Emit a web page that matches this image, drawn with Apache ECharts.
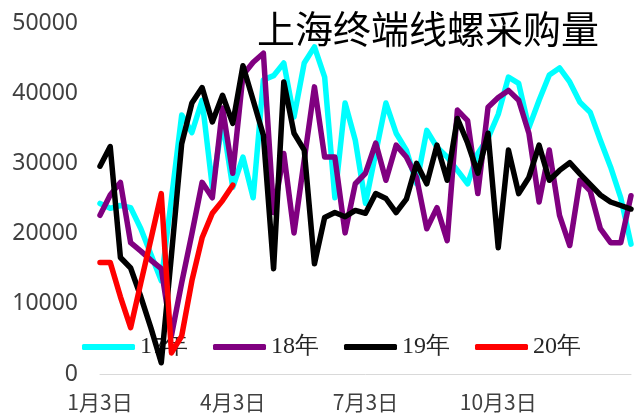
<!DOCTYPE html>
<html>
<head>
<meta charset="utf-8">
<script src="https://cdn.jsdelivr.net/npm/echarts@6/dist/echarts.min.js"></script>
<style>
html,body{margin:0;padding:0;background:#fff;}
#chart{width:634px;height:420px;}
</style>
</head>
<body>
<div id="chart"></div>
<script>
// weekly categories
const categories = ['1月3日','1月10日','1月17日','1月24日','1月31日','2月7日','2月14日','2月21日','2月28日','3月6日','3月13日','3月20日','3月27日','4月3日','4月10日','4月17日','4月24日','5月1日','5月8日','5月15日','5月22日','5月29日','6月5日','6月12日','6月19日','6月26日','7月3日','7月10日','7月17日','7月24日','7月31日','8月7日','8月14日','8月21日','8月28日','9月4日','9月11日','9月18日','9月25日','10月2日','10月9日','10月16日','10月23日','10月30日','11月6日','11月13日','11月20日','11月27日','12月4日','12月11日','12月18日','12月25日','1月1日'];
const tickIndex = [0, 13, 26, 39];
const tickLabels = ['1月3日', '4月3日', '7月3日', '10月3日'];
const yTicks = [0, 10000, 20000, 30000, 40000, 50000];
const seriesNames = ['17年', '18年', '19年', '20年'];

const s17 = [24300,23600,24000,23700,20700,17000,13300,25000,36900,34400,39000,26600,36000,26600,30900,25100,41900,42500,44300,36600,44300,46600,42300,25100,38600,33300,24300,31500,38600,34300,31900,27100,34700,32300,30900,29000,27100,31400,33600,37000,42300,41400,35100,39000,42600,43600,41600,38700,37300,33300,29500,25100,18500];
const s18 = [22600,25500,27300,18700,17500,16200,15000,5500,13000,20000,27300,25100,37900,28600,42600,44400,45700,23000,31400,20100,30500,40900,30900,30900,20100,27100,28600,32900,27600,32600,30900,28000,20700,23700,19000,37600,36100,25700,38000,39400,40400,39000,34300,24500,31900,22600,18300,27600,26100,20700,18700,18700,25400];
const s19 = [29600,32400,16600,15100,11000,6500,1600,17000,32800,38600,40800,35900,39700,35700,43900,39000,34000,15000,41600,34300,31900,15700,22300,23000,22400,23300,22900,25700,25000,23000,24900,30000,27100,32600,27600,36400,32900,28600,34300,18000,31900,25700,28000,32600,27600,29000,30100,28500,27000,25500,24500,24000,23500];
const s20 = [15900,15900,11000,6600,13000,19300,25700,3000,5400,13300,19400,22900,24700,26900];

const colors = ['#00FFFF', '#800080', '#000000', '#FF0000'];
const values = [s17, s18, s19, s20];

const chart = echarts.init(document.getElementById('chart'), null, {renderer: 'canvas'});
chart.setOption({
  animation: false,
  backgroundColor: '#ffffff',
  title: {
    text: '上海终端线螺采购量',
    left: 257, top: 10, padding: 0,
    textStyle: {fontFamily: 'Noto Sans CJK SC', fontSize: 38, fontWeight: 'normal', color: '#000'}
  },
  grid: {left: 100, right: 0, top: 23, bottom: 46, containLabel: false},
  legend: {
    data: seriesNames.map(function (n) { return {name: n, icon: 'roundRect'}; }),
    left: 77, top: 330, z: 1,
    itemWidth: 53, itemHeight: 6, itemGap: 25,
    textStyle: {fontFamily: 'Liberation Serif', fontSize: 24, color: '#262626'}
  },
  xAxis: {
    type: 'category',
    data: categories,
    boundaryGap: false,
    axisLine: {lineStyle: {color: '#d9d9d9', width: 1}},
    axisTick: {show: false},
    axisLabel: {
      interval: 0,
      margin: 18,
      fontFamily: 'Noto Sans CJK SC',
      fontSize: 21,
      color: '#404040',
      formatter: function (v, i) {
        const k = tickIndex.indexOf(i);
        return k >= 0 ? tickLabels[k] : '';
      }
    },
    splitLine: {show: false}
  },
  yAxis: {
    type: 'value',
    min: yTicks[0], max: yTicks[yTicks.length - 1], interval: 10000,
    axisLine: {show: false},
    axisTick: {show: false},
    splitLine: {show: false},
    axisLabel: {
      margin: 22,
      fontFamily: 'Noto Sans',
      fontSize: 23,
      color: '#404040',
      formatter: function (v) { return String(v); }
    }
  },
  series: values.map(function (d, i) {
    return {
      name: seriesNames[i],
      type: 'line',
      z: 3,
      data: d,
      symbol: 'none',
      showSymbol: false,
      lineStyle: {color: colors[i], width: 5.5, cap: 'round', join: 'round'},
      itemStyle: {color: colors[i]}
    };
  })
});
</script>
</body>
</html>
